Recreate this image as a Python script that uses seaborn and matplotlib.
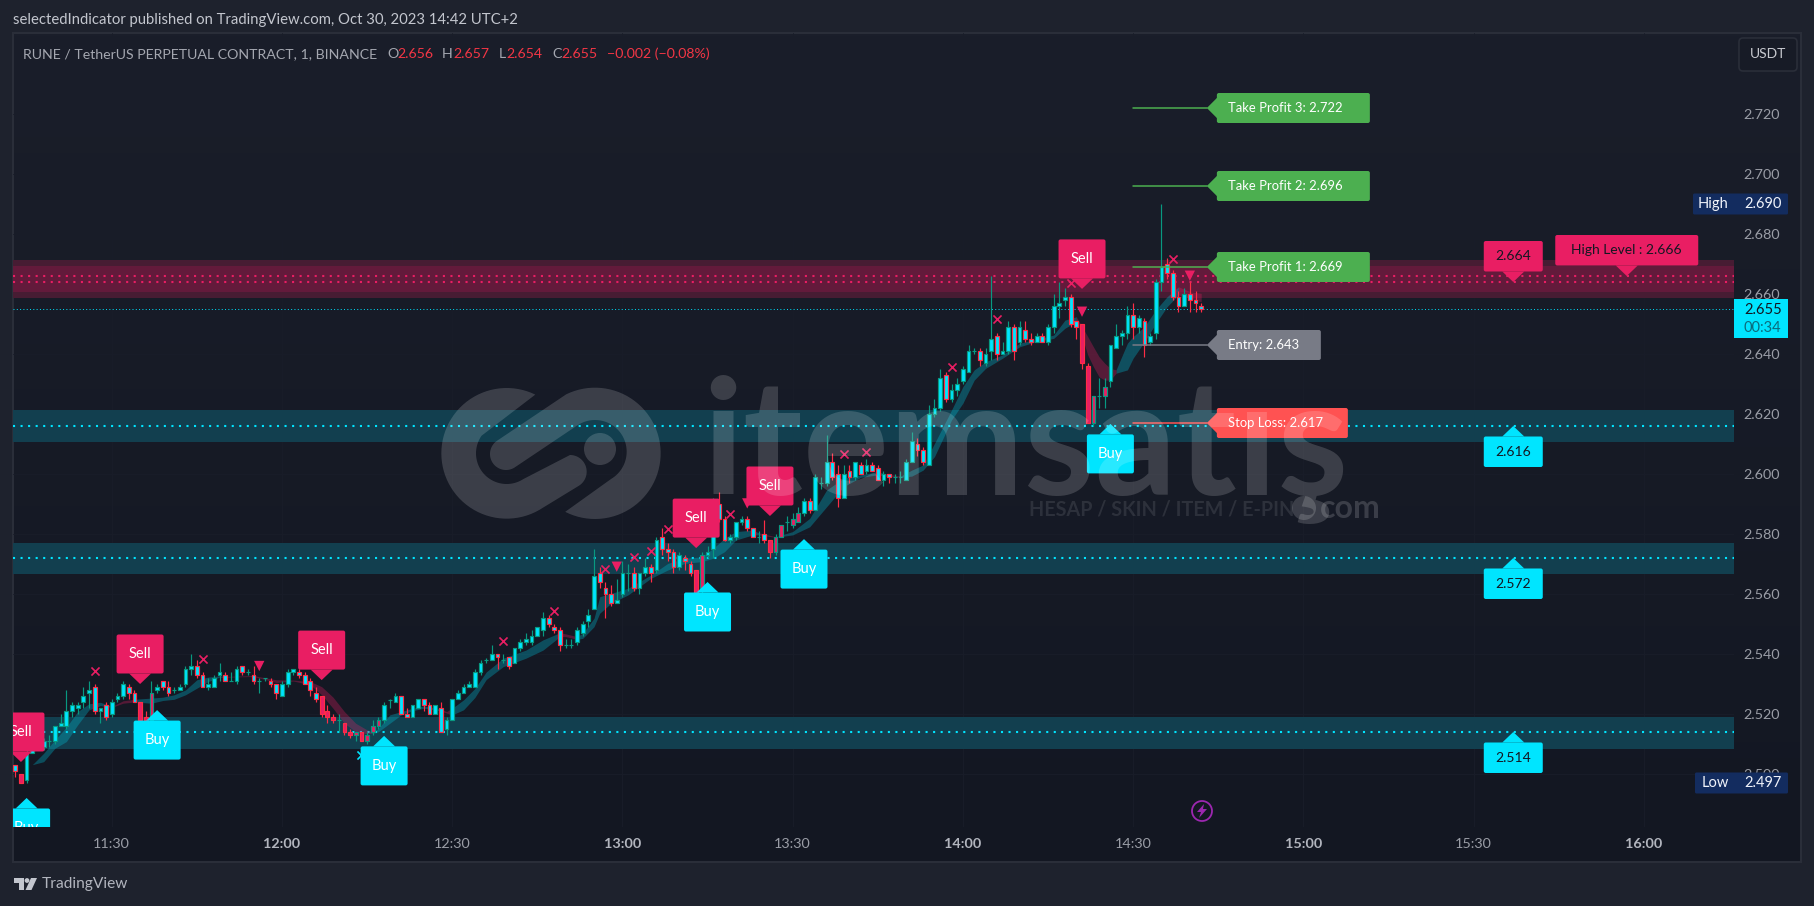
import numpy as np
import pandas as pd
import matplotlib
matplotlib.use("Agg")
import matplotlib.pyplot as plt
import seaborn as sns
from matplotlib.colors import LinearSegmentedColormap
from matplotlib.patches import Circle, FancyBboxPatch, Polygon, Rectangle

# candles: one per minute, first one at 11:13
first_minute = 673
opens = [
    2.503, 2.500, 2.498, 2.507, 2.509, 2.509, 2.511, 2.511, 2.516, 2.516,
    2.521, 2.522, 2.524, 2.527, 2.529, 2.521, 2.523, 2.520, 2.525, 2.526,
    2.529, 2.527, 2.524, 2.519, 2.518, 2.528, 2.531, 2.529, 2.528, 2.528,
    2.530, 2.535, 2.536, 2.533, 2.529, 2.529, 2.533, 2.533, 2.531, 2.531,
    2.536, 2.534, 2.533, 2.531, 2.532, 2.531, 2.530, 2.526, 2.530, 2.534,
    2.534, 2.533, 2.531, 2.527, 2.526, 2.521, 2.519, 2.518, 2.517, 2.514,
    2.513, 2.514, 2.511, 2.514, 2.516, 2.518, 2.5245, 2.524, 2.526, 2.520,
    2.519, 2.522, 2.525, 2.523, 2.520, 2.522, 2.515, 2.518, 2.525, 2.527,
    2.529, 2.529, 2.534, 2.538, 2.538, 2.540, 2.538, 2.539, 2.537, 2.542,
    2.544, 2.544, 2.546, 2.548, 2.552, 2.549, 2.548, 2.543, 2.543, 2.544,
    2.547, 2.551, 2.555, 2.567, 2.562, 2.560, 2.557, 2.560, 2.567, 2.567,
    2.562, 2.567, 2.569, 2.568, 2.579, 2.575, 2.574, 2.569, 2.572, 2.570,
    2.568, 2.561, 2.573, 2.575, 2.590, 2.585, 2.578, 2.579, 2.584, 2.585,
    2.582, 2.579, 2.580, 2.578, 2.574, 2.579, 2.584, 2.583, 2.584, 2.587,
    2.591, 2.588, 2.597, 2.597, 2.604, 2.600, 2.592, 2.601, 2.599, 2.603,
    2.601, 2.603, 2.602, 2.598, 2.600, 2.599, 2.599, 2.598, 2.604, 2.610,
    2.608, 2.603, 2.620, 2.622, 2.633, 2.625, 2.628, 2.631, 2.634, 2.641,
    2.641, 2.637, 2.641, 2.646, 2.640, 2.641, 2.649, 2.644, 2.648, 2.645,
    2.644, 2.646, 2.644, 2.649, 2.656, 2.658, 2.659, 2.651, 2.650, 2.636,
    2.617, 2.626, 2.626, 2.631, 2.642, 2.646, 2.647, 2.653, 2.649, 2.651,
    2.644, 2.647, 2.664, 2.670, 2.667, 2.659, 2.656, 2.660, 2.658, 2.656,
]
highs = [
    2.503, 2.500, 2.508, 2.510, 2.511, 2.512, 2.513, 2.516, 2.520, 2.528,
    2.524, 2.524, 2.529, 2.531, 2.530, 2.522, 2.524, 2.525, 2.527, 2.531,
    2.530, 2.528, 2.524, 2.521, 2.531, 2.530, 2.531, 2.531, 2.529, 2.530,
    2.536, 2.540, 2.538, 2.534, 2.532, 2.533, 2.537, 2.534, 2.534, 2.536,
    2.536, 2.535, 2.536, 2.532, 2.532, 2.532, 2.530, 2.531, 2.535, 2.535,
    2.535, 2.534, 2.532, 2.529, 2.526, 2.523, 2.520, 2.520, 2.517, 2.515,
    2.514, 2.514, 2.514, 2.518, 2.519, 2.524, 2.525, 2.527, 2.526, 2.522,
    2.523, 2.525, 2.525, 2.524, 2.523, 2.524, 2.519, 2.525, 2.528, 2.530,
    2.531, 2.535, 2.538, 2.5385, 2.543, 2.540, 2.540, 2.539, 2.542, 2.545,
    2.547, 2.548, 2.549, 2.554, 2.553, 2.550, 2.549, 2.545, 2.545, 2.549,
    2.551, 2.555, 2.575, 2.569, 2.564, 2.563, 2.565, 2.571, 2.570, 2.569,
    2.567, 2.572, 2.570, 2.579, 2.582, 2.577, 2.575, 2.574, 2.573, 2.571,
    2.568, 2.574, 2.576, 2.592, 2.594, 2.586, 2.580, 2.584, 2.586, 2.586,
    2.582, 2.581, 2.5845, 2.578, 2.580, 2.583, 2.586, 2.587, 2.589, 2.592,
    2.592, 2.600, 2.599, 2.613, 2.607, 2.603, 2.603, 2.603, 2.604, 2.604,
    2.605, 2.604, 2.603, 2.601, 2.600, 2.600, 2.601, 2.605, 2.614, 2.612,
    2.609, 2.623, 2.625, 2.635, 2.634, 2.630, 2.632, 2.636, 2.643, 2.642,
    2.642, 2.642, 2.666, 2.647, 2.644, 2.651, 2.650, 2.651, 2.651, 2.647,
    2.647, 2.647, 2.650, 2.660, 2.664, 2.662, 2.660, 2.651, 2.650, 2.637,
    2.626, 2.632, 2.632, 2.643, 2.650, 2.648, 2.656, 2.657, 2.653, 2.652,
    2.647, 2.665, 2.690, 2.672, 2.668, 2.661, 2.662, 2.664, 2.661, 2.657,
]
lows = [
    2.499, 2.497, 2.497, 2.507, 2.508, 2.508, 2.509, 2.510, 2.516, 2.515,
    2.519, 2.520, 2.522, 2.522, 2.520, 2.517, 2.518, 2.519, 2.524, 2.525,
    2.525, 2.524, 2.517, 2.517, 2.517, 2.527, 2.528, 2.526, 2.527, 2.528,
    2.529, 2.533, 2.532, 2.529, 2.528, 2.529, 2.531, 2.531, 2.531, 2.530,
    2.533, 2.533, 2.530, 2.527, 2.531, 2.529, 2.525, 2.526, 2.529, 2.533,
    2.532, 2.530, 2.526, 2.524, 2.519, 2.517, 2.517, 2.514, 2.513, 2.512,
    2.511, 2.511, 2.510, 2.513, 2.515, 2.517, 2.522, 2.524, 2.520, 2.519,
    2.519, 2.522, 2.521, 2.520, 2.520, 2.514, 2.513, 2.518, 2.525, 2.527,
    2.529, 2.529, 2.533, 2.537, 2.538, 2.535, 2.537, 2.535, 2.537, 2.541,
    2.543, 2.543, 2.546, 2.546, 2.549, 2.547, 2.541, 2.542, 2.542, 2.543,
    2.546, 2.549, 2.555, 2.562, 2.552, 2.556, 2.557, 2.559, 2.561, 2.561,
    2.560, 2.566, 2.564, 2.567, 2.573, 2.571, 2.567, 2.568, 2.568, 2.566,
    2.560, 2.560, 2.572, 2.572, 2.584, 2.5775, 2.577, 2.578, 2.583, 2.581,
    2.579, 2.577, 2.577, 2.572, 2.573, 2.579, 2.581, 2.582, 2.584, 2.586,
    2.587, 2.588, 2.595, 2.596, 2.598, 2.589, 2.592, 2.597, 2.598, 2.600,
    2.600, 2.601, 2.598, 2.596, 2.597, 2.597, 2.597, 2.598, 2.604, 2.606,
    2.603, 2.603, 2.619, 2.621, 2.624, 2.624, 2.626, 2.630, 2.634, 2.640,
    2.636, 2.636, 2.638, 2.638, 2.640, 2.640, 2.638, 2.643, 2.644, 2.643,
    2.644, 2.644, 2.643, 2.647, 2.652, 2.656, 2.649, 2.645, 2.635, 2.617,
    2.616, 2.622, 2.622, 2.629, 2.642, 2.643, 2.645, 2.645, 2.647, 2.639,
    2.643, 2.645, 2.661, 2.665, 2.658, 2.654, 2.656, 2.654, 2.654, 2.654,
]
closes = [
    2.501, 2.497, 2.507, 2.509, 2.510, 2.511, 2.511, 2.516, 2.517, 2.521,
    2.523, 2.523, 2.526, 2.528, 2.521, 2.522, 2.519, 2.524, 2.526, 2.530,
    2.527, 2.524, 2.518, 2.518, 2.527, 2.529, 2.529, 2.527, 2.528, 2.529,
    2.535, 2.536, 2.533, 2.529, 2.530, 2.532, 2.534, 2.531, 2.531, 2.535,
    2.534, 2.534, 2.531, 2.531, 2.532, 2.530, 2.527, 2.530, 2.534, 2.535,
    2.533, 2.530, 2.528, 2.525, 2.520, 2.519, 2.518, 2.518, 2.514, 2.513,
    2.514, 2.511, 2.513, 2.516, 2.518, 2.523, 2.5245, 2.526, 2.520, 2.519,
    2.523, 2.525, 2.523, 2.520, 2.523, 2.514, 2.518, 2.525, 2.527, 2.529,
    2.530, 2.534, 2.537, 2.538, 2.540, 2.539, 2.538, 2.536, 2.542, 2.544,
    2.545, 2.546, 2.549, 2.552, 2.550, 2.548, 2.543, 2.543, 2.543, 2.548,
    2.550, 2.553, 2.566, 2.564, 2.560, 2.557, 2.558, 2.567, 2.567, 2.562,
    2.567, 2.569, 2.567, 2.578, 2.575, 2.574, 2.569, 2.573, 2.571, 2.567,
    2.560, 2.573, 2.574, 2.590, 2.585, 2.578, 2.579, 2.584, 2.585, 2.582,
    2.579, 2.579, 2.578, 2.574, 2.579, 2.583, 2.584, 2.585, 2.587, 2.591,
    2.588, 2.599, 2.597, 2.604, 2.599, 2.592, 2.600, 2.599, 2.604, 2.600,
    2.603, 2.601, 2.598, 2.600, 2.599, 2.599, 2.599, 2.604, 2.611, 2.608,
    2.604, 2.620, 2.622, 2.632, 2.625, 2.628, 2.630, 2.635, 2.641, 2.641,
    2.638, 2.640, 2.645, 2.640, 2.641, 2.649, 2.641, 2.649, 2.645, 2.644,
    2.646, 2.644, 2.649, 2.656, 2.657, 2.659, 2.650, 2.649, 2.637, 2.617,
    2.626, 2.626, 2.629, 2.643, 2.646, 2.647, 2.653, 2.649, 2.652, 2.643,
    2.646, 2.664, 2.669, 2.667, 2.659, 2.656, 2.660, 2.658, 2.657, 2.655,
]
# candles painted crimson inside instead of cyan
crimson_bars = [1, 22, 23, 24, 54, 55, 56, 58, 59, 60, 61, 62, 63, 64,
                120, 121, 133, 134, 135, 137, 138, 188, 189, 190, 192]

# ribbon between the two averages: bar index, upper edge, lower edge, colour switches by run
ribbon_up = [
    ([3, 5, 7, 9, 11, 13, 15, 17],
     [2.5031, 2.5069, 2.5114, 2.5156, 2.5208, 2.5234, 2.5239, 2.5225],
     [2.5031, 2.5041, 2.5086, 2.5108, 2.5164, 2.5214, 2.5228, 2.5222]),
    ([21, 24, 26, 28, 30, 32, 34, 36, 37],
     [2.5249, 2.5253, 2.5256, 2.5264, 2.5280, 2.5314, 2.5323, 2.5327, 2.5325],
     [2.5240, 2.5236, 2.5245, 2.5249, 2.5264, 2.5286, 2.5308, 2.5323, 2.5323]),
    ([63, 64, 66, 68, 70, 72, 74, 75],
     [2.5139, 2.5152, 2.5197, 2.5208, 2.5219, 2.5227, 2.5219, 2.5216],
     [2.5136, 2.5141, 2.5169, 2.5197, 2.5211, 2.5219, 2.5214, 2.5210]),
    ([77, 79, 81, 83, 86, 90, 93, 96],
     [2.5219, 2.5247, 2.5285, 2.5340, 2.5386, 2.5413, 2.5447, 2.5471],
     [2.5197, 2.5214, 2.5255, 2.5315, 2.5358, 2.5386, 2.5413, 2.5458]),
    ([99, 100, 102, 103, 105, 108, 112, 115, 118, 121, 123, 125, 127, 130, 131],
     [2.5458, 2.5469, 2.5519, 2.5591, 2.5602, 2.5619, 2.5663, 2.5702, 2.5719,
      2.5724, 2.5752, 2.5786, 2.5808, 2.5813, 2.5804],
     [2.5449, 2.5452, 2.5491, 2.5536, 2.5569, 2.5597, 2.5652, 2.5680, 2.5702,
      2.5708, 2.5719, 2.5741, 2.5780, 2.5797, 2.5797]),
    ([134, 137, 140, 143, 146, 149, 152, 153],
     [2.5791, 2.5808, 2.5852, 2.5947, 2.5986, 2.5997, 2.6008, 2.6002],
     [2.5789, 2.5797, 2.5824, 2.5891, 2.5958, 2.5989, 2.5997, 2.5993]),
    ([156, 158, 160, 162, 165, 167, 169, 171, 174, 177, 180, 183, 185, 187],
     [2.5993, 2.6013, 2.6030, 2.6102, 2.6213, 2.6291, 2.6347, 2.6374, 2.6397,
      2.6436, 2.6449, 2.6463, 2.6513, 2.6524],
     [2.5989, 2.5993, 2.6013, 2.6058, 2.6180, 2.6236, 2.6313, 2.6352, 2.6386,
      2.6424, 2.6442, 2.6452, 2.6486, 2.6508]),
    ([194, 196, 197, 199, 201, 203, 205],
     [2.6347, 2.6436, 2.6458, 2.6491, 2.6547, 2.6591, 2.6624],
     [2.6336, 2.6347, 2.6386, 2.6441, 2.6502, 2.6558, 2.6597]),
]
ribbon_down = [
    ([17, 19, 21], [2.5225, 2.5244, 2.5249], [2.5222, 2.5236, 2.5240]),
    ([37, 42, 46, 49, 52, 54, 56, 58, 60, 62, 63],
     [2.5325, 2.5328, 2.5314, 2.5313, 2.5308, 2.5291, 2.5256, 2.5208, 2.5169, 2.5147, 2.5139],
     [2.5323, 2.5325, 2.5305, 2.5310, 2.5297, 2.5264, 2.5219, 2.5169, 2.5141, 2.5134, 2.5136]),
    ([75, 76, 77], [2.5216, 2.5208, 2.5219], [2.5210, 2.5203, 2.5197]),
    ([96, 97, 99], [2.5471, 2.5467, 2.5458], [2.5458, 2.5458, 2.5449]),
    ([131, 134], [2.5804, 2.5791], [2.5797, 2.5789]),
    ([153, 156], [2.6002, 2.5993], [2.5993, 2.5989]),
    ([187, 188, 189, 190, 191, 192, 193, 194],
     [2.6524, 2.6491, 2.6458, 2.6424, 2.6391, 2.6369, 2.6352, 2.6347],
     [2.6508, 2.6458, 2.6397, 2.6358, 2.6324, 2.6313, 2.6313, 2.6336]),
    ([205, 207, 209], [2.6624, 2.6608, 2.6602], [2.6597, 2.6586, 2.6574]),
]

# markers
cross_bars = [14, 33, 86, 95, 104, 109, 112, 115, 126, 146, 150, 165, 173, 186, 204]
cross_prices = [2.5344, 2.5384, 2.5444, 2.5544, 2.5684, 2.5724, 2.5744, 2.5816,
                2.5866, 2.6066, 2.6074, 2.6356, 2.6516, 2.6636, 2.6716]
buy_cross_bars = [61]
buy_cross_prices = [2.5064]
tri_bars = [43, 106, 129, 188, 207]
tri_prices = [2.5360, 2.5691, 2.5902, 2.6541, 2.6661]

sell_bars = [1, 22, 54, 120, 133, 188]
sell_prices = [2.5040, 2.5300, 2.5313, 2.5753, 2.5860, 2.6617]
buy_bars = [2, 25, 65, 122, 139, 193]
buy_prices = [2.4920, 2.5213, 2.5127, 2.5640, 2.5783, 2.6167]

# zones: top, bottom
red_zone_outer = (2.6713, 2.6587)
red_zone_inner = (2.6693, 2.6608)
red_levels = [2.666, 2.664]
teal_zones = [(2.6213, 2.6108), (2.5771, 2.5666), (2.5190, 2.5084)]
teal_levels = [2.616, 2.572, 2.514]
last_price = 2.655

# take profit / entry / stop
trade_names = ["Take Profit 3: 2.722", "Take Profit 2: 2.696", "Take Profit 1: 2.669",
               "Entry: 2.643", "Stop Loss: 2.617"]
trade_prices = [2.722, 2.696, 2.669, 2.643, 2.617]
trade_colors = ["#4caf50", "#4caf50", "#4caf50", "#787b86", "#ff5252"]
trade_widths = [153, 153, 153, 104, 131]

price_ticks = [2.50, 2.52, 2.54, 2.56, 2.58, 2.60, 2.62, 2.64, 2.66, 2.68, 2.70, 2.72]
time_ticks = [690, 720, 750, 780, 810, 840, 870, 900, 930, 960]
time_labels = ["11:30", "12:00", "12:30", "13:00", "13:30", "14:00", "14:30", "15:00", "15:30", "16:00"]

candles = pd.DataFrame({"open": opens, "high": highs, "low": lows, "close": closes})
candles["minute"] = first_minute + candles.index
candles["up"] = candles["close"] >= candles["open"]
candles["fill"] = "#00e5ff"
candles.loc[crimson_bars, "fill"] = "#e91e63"
candles["edge"] = np.where(candles["up"], "#089981", "#ff2d46")

W, H = 1814, 906
FONT = "Lato"
GREY = "#9a9da6"

sns.set_theme(style="dark", rc={"axes.facecolor": "none", "figure.facecolor": "#1e222d"})
plt.rcParams["font.family"] = [FONT, "DejaVu Sans"]

fig = plt.figure(figsize=(W / 100, H / 100), dpi=100)


def axes_px(left, top, right, bottom):
    return fig.add_axes([left / W, 1 - bottom / H, (right - left) / W, (bottom - top) / H])


# panel background with its slight vertical gradient
bg = axes_px(13, 33, 1801, 862)
cmap = LinearSegmentedColormap.from_list("panel", ["#1a1e2a", "#131722"])
bg.imshow(np.linspace(0, 1, 256).reshape(-1, 1), aspect="auto", cmap=cmap)
bg.set_xticks([])
bg.set_yticks([])
for s in bg.spines.values():
    s.set_color("#2a2e39")
    s.set_linewidth(1.5)
    s.set_visible(True)

# price pane
ax = axes_px(13, 33, 1734, 827)
ax.set_xlim(672.6, 975.9)
ax.set_ylim(2.48233, 2.747)
ax.grid(True, color="#191d29", linewidth=0.7)
ax.set_axisbelow(True)
for s in ax.spines.values():
    s.set_visible(False)

ax.axhspan(*red_zone_outer, color="#471c33", lw=0, zorder=1)
ax.axhspan(*red_zone_inner, color="#631a3b", lw=0, zorder=1.1)
for top, bottom in teal_zones:
    ax.axhspan(top, bottom, color="#123f4f", lw=0, zorder=1)

span = [672.6, 975.9]
for lev in red_levels:
    sns.lineplot(x=span, y=[lev, lev], color="#e91e63", linewidth=1.5,
                 linestyle=(0, (1, 2.62)), ax=ax, zorder=1.5)
for lev in teal_levels:
    sns.lineplot(x=span, y=[lev, lev], color="#00e5ff", linewidth=1.5,
                 linestyle=(0, (1, 2.62)), ax=ax, zorder=1.5)
sns.lineplot(x=span, y=[last_price, last_price], color="#00e5ff", linewidth=0.7,
             linestyle=(0, (1, 2.4)), ax=ax, zorder=1.5)

# ribbon
for bars, upper, lower in ribbon_up:
    ax.fill_between(first_minute + np.array(bars), upper, lower, color="#00bcd4", alpha=0.33, lw=0, zorder=2)
for bars, upper, lower in ribbon_down:
    ax.fill_between(first_minute + np.array(bars), upper, lower, color="#e91e63", alpha=0.3, lw=0, zorder=2)

# candles
ax.vlines(candles["minute"], candles["low"], candles["high"], colors=candles["edge"], linewidth=0.85, zorder=3)
body_low = candles[["open", "close"]].min(axis=1)
body_height = (candles["close"] - candles["open"]).abs()
ax.bar(candles["minute"], body_height, bottom=body_low, width=0.66, color=candles["fill"],
       edgecolor=candles["edge"], linewidth=0.85, zorder=4)

# trade lines
for price, col in zip(trade_prices, trade_colors):
    sns.lineplot(x=[870, 883], y=[price, price], color=col, linewidth=1.1, ax=ax, zorder=5)

# markers
sns.scatterplot(x=first_minute + np.array(cross_bars), y=cross_prices, marker="x", s=34, color="#e91e63",
                linewidth=1.2, ax=ax, zorder=6)
sns.scatterplot(x=first_minute + np.array(buy_cross_bars), y=buy_cross_prices, marker="x", s=34, color="#00e5ff",
                linewidth=1.2, ax=ax, zorder=6)
sns.scatterplot(x=first_minute + np.array(tri_bars), y=tri_prices, marker="v", s=55, color="#e91e63",
                edgecolor="none", ax=ax, zorder=6)

# axes labels
ax.yaxis.tick_right()
ax.set_yticks(price_ticks)
ax.set_yticklabels([f"{p:.3f}" for p in price_ticks])
ax.set_xticks(time_ticks)
ax.set_xticklabels(time_labels)
ax.tick_params(axis="y", length=0, pad=7, labelsize=10.4, labelcolor=GREY)
ax.tick_params(axis="x", length=0, pad=8, labelsize=10.4, labelcolor=GREY)
for lab, m in zip(ax.get_xticklabels(), time_ticks):
    if m % 60 == 0:
        lab.set_fontweight("bold")
        lab.set_color("#b2b5be")
ax.set_xlabel("")
ax.set_ylabel("")

# overlay in pixels for labels and chrome
ov = fig.add_axes([0, 0, 1, 1], facecolor="none")
ov.set_xlim(0, W)
ov.set_ylim(H, 0)
ov.axis("off")
pane_clip = Rectangle((13, 33), 1721, 794, transform=ov.transData)


def to_px(minute, price):
    x, y = ax.transData.transform((minute, price))
    return x, H - y


def callout(cx, tip, direction, width, height, color, text, text_color, size=10.5):
    # direction -1: box above the tip, +1: box below the tip
    near = tip + direction * 10.5
    far = near + direction * height
    top, bottom = min(near, far), max(near, far)
    box = FancyBboxPatch((cx - width / 2, top), width, height, boxstyle="round,pad=0,rounding_size=2",
                         fc=color, ec="none", zorder=20)
    arrow = Polygon([(cx - 11, near), (cx + 11, near), (cx, tip)], fc=color, ec="none", zorder=20)
    ov.add_patch(box)
    ov.add_patch(arrow)
    t = ov.text(cx, (top + bottom) / 2, text, color=text_color, fontsize=size, ha="center", va="center",
                zorder=21, clip_on=True)
    for art in (box, arrow, t):
        art.set_clip_path(pane_clip)
    return t


for b, p in zip(sell_bars, sell_prices):
    cx, tip = to_px(first_minute + b, p)
    callout(cx, tip, -1, 47, 39, "#e91e63", "Sell", "white")
for b, p in zip(buy_bars, buy_prices):
    cx, tip = to_px(first_minute + b, p)
    callout(cx, tip, 1, 47, 39, "#00e5ff", "Buy", "white")

for lev in teal_levels:
    cx, tip = to_px(937, lev)
    callout(cx, tip, 1, 59, 30.5, "#00e5ff", f"{lev:.3f}", "#131722", 10)
cx, tip = to_px(937, red_levels[1])
callout(cx, tip, -1, 59, 30.5, "#e91e63", f"{red_levels[1]:.3f}", "#131722", 10)
cx, tip = to_px(957, red_levels[0])
callout(cx, tip, -1, 143, 30.5, "#e91e63", f"High Level : {red_levels[0]:.3f}", "#131722", 10)

# left pointing trade labels
for name, price, col, width in zip(trade_names, trade_prices, trade_colors, trade_widths):
    tip_x, y = to_px(883, price)
    left = tip_x + 10
    ov.add_patch(FancyBboxPatch((left, y - 15), width, 30, boxstyle="round,pad=0,rounding_size=2",
                                fc=col, ec="none", zorder=20))
    ov.add_patch(Polygon([(left + 1, y - 11), (left + 1, y + 11), (tip_x, y)], fc=col, ec="none", zorder=20))
    ov.text(left + 11, y, name, color="white", fontsize=9.4, va="center", ha="left", zorder=21)

# price scale badges
_, y_high = to_px(900, 2.690)
ov.add_patch(FancyBboxPatch((1693, y_high - 10.5), 95, 21, boxstyle="round,pad=0,rounding_size=1.5",
                            fc="#132c5f", ec="none", zorder=20))
ov.text(1698, y_high, "High", color="#f0f3fa", fontsize=10.5, va="center", zorder=21)
ov.text(1744, y_high, "2.690", color="#f0f3fa", fontsize=10.5, va="center", zorder=21)
_, y_low = to_px(900, 2.497)
ov.add_patch(FancyBboxPatch((1695, y_low - 10.5), 93, 21, boxstyle="round,pad=0,rounding_size=1.5",
                            fc="#132c5f", ec="none", zorder=20))
ov.text(1702, y_low, "Low", color="#f0f3fa", fontsize=10.5, va="center", zorder=21)
ov.text(1744, y_low, "2.497", color="#f0f3fa", fontsize=10.5, va="center", zorder=21)

ov.add_patch(Rectangle((1734, 299), 54, 39, fc="#00e5ff", ec="none", zorder=20))
ov.text(1744, 310, f"{last_price:.3f}", color="#131722", fontsize=10.5, va="center", zorder=21)
ov.text(1744, 328, "00:34", color="#0b6c7c", fontsize=10.5, va="center", zorder=21)

ov.add_patch(FancyBboxPatch((1739, 38), 58, 33, boxstyle="round,pad=0,rounding_size=4",
                            fc="#171b26", ec="#2a2e39", lw=1.2, zorder=20))
ov.text(1768, 54.5, "USDT", color="#c8cad0", fontsize=10, ha="center", va="center", zorder=21)

# header and legend
ov.text(13, 20, "selectedIndicator published on TradingView.com, Oct 30, 2023 14:42 UTC+2",
        color="#c3c6ce", fontsize=10.75, va="center")
ov.text(23, 54, "RUNE / TetherUS PERPETUAL CONTRACT, 1, BINANCE", color="#a4a7b0", fontsize=10.2, va="center")
legend_parts = [(387, "O", "#a4a7b0"), (397, "2.656", "#f23645"), (442, "H", "#a4a7b0"), (453, "2.657", "#f23645"),
                (498.5, "L", "#a4a7b0"), (506, "2.654", "#f23645"), (552, "C", "#a4a7b0"), (561, "2.655", "#f23645"),
                (607, "\u22120.002 (\u22120.08%)", "#f23645")]
for x, s, col in legend_parts:
    ov.text(x, 54, s, color=col, fontsize=10.2, va="center")

# lightning icon
ov.add_patch(Circle((1202, 811), 10, fc="none", ec="#9c27b0", lw=1.3, zorder=15))
ov.add_patch(Polygon([(1204, 804), (1197, 812), (1201, 812), (1199, 818), (1207, 809), (1203, 809)],
                     fc="#9c27b0", ec="none", zorder=15))

# footer brand
ov.add_patch(Polygon([(13.5, 878), (24, 878), (24, 890), (19, 890), (19, 883), (13.5, 883)], fc="#c3c6ce", ec="none"))
ov.add_patch(Circle((27, 880.5), 2.4, fc="#c3c6ce", ec="none"))
ov.add_patch(Polygon([(31, 878), (37, 878), (31.5, 890), (25.5, 890)], fc="#c3c6ce", ec="none"))
ov.text(42, 884, "TradingView", color="#b2b5be", fontsize=11.2, va="center")


# watermark on top of the chart
def arc(cx, cy, r, a0, a1):
    a = np.radians(np.linspace(a0, a1, 60))
    return np.column_stack([cx + r * np.cos(a), cy + r * np.sin(a)])


left_link = np.vstack([arc(230, 235, 196, -64, -300), arc(420, 290, 50, 60, -90), arc(230, 235, 92, 57, 215)])
right_link = np.vstack([arc(495, 235, 197, 117, -116), arc(228, 237, 48, 234, 56), arc(495, 230, 95, -125, 59)])
for shape in (left_link, right_link):
    ov.add_patch(Polygon(shape / 3 + [430, 375], fc="white", alpha=0.16, ec="none", zorder=30))
ov.add_patch(Circle((510 / 3 + 430, 222 / 3 + 375), 16, fc="white", alpha=0.16, ec="none", zorder=30))

ov.text(702, 495, "itemsat\u0131\u015f", color="white", alpha=0.16, fontsize=116, fontweight="bold",
        family=FONT, va="baseline", ha="left", zorder=30)
ov.text(1029, 510, "HESAP / SKIN / ITEM / E-PIN", color="white", alpha=0.1, fontsize=14.2, fontweight="bold",
        va="center", ha="left", zorder=30)
ov.add_patch(Circle((1304, 508), 12, fc="white", alpha=0.16, ec="none", zorder=30))
ov.text(1320, 508, "com", color="white", alpha=0.16, fontsize=23, fontweight="bold", va="center", zorder=30)

fig.savefig("out.png", dpi=100, facecolor=fig.get_facecolor())
